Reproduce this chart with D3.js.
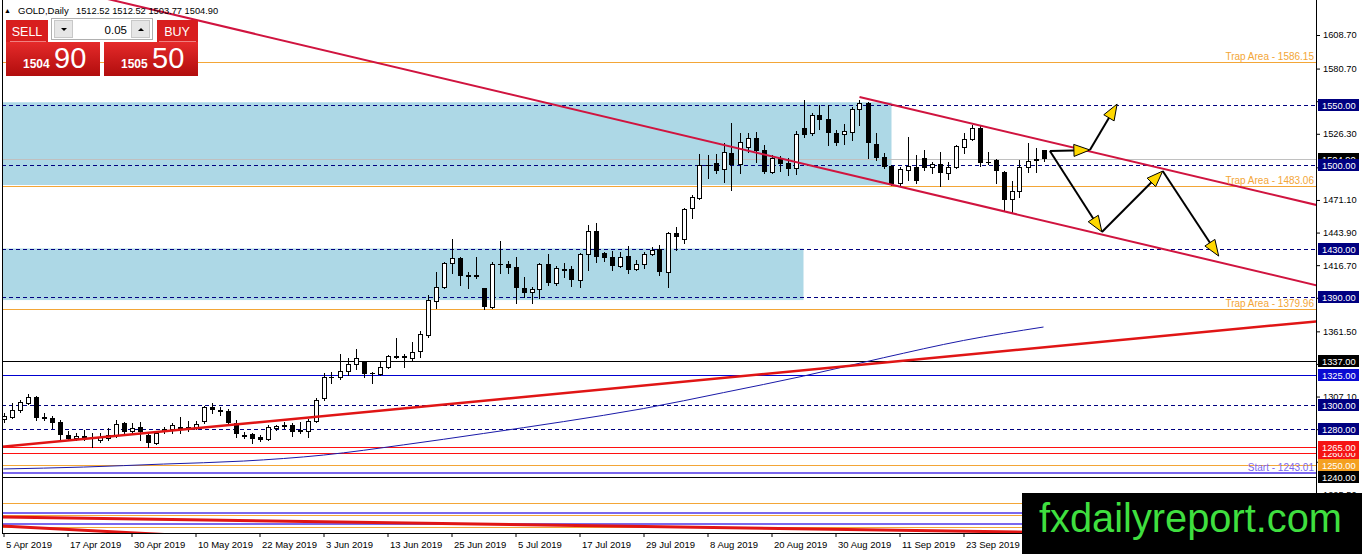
<!DOCTYPE html>
<html>
<head>
<meta charset="utf-8">
<script src="https://cdnjs.cloudflare.com/ajax/libs/d3/7.8.5/d3.min.js"></script>
<style>
  body { margin: 0; background: #fff; }
  svg { display: block; font-family: "Liberation Sans", Arial, sans-serif; }
</style>
</head>
<body>
<div id="chart"></div>
<script>
// ---------- data ----------
let symbol = "GOLD,Daily";
let askPrice = 1505.50;
let lotSize = 0.05;

// daily bars, 5 Apr 2019 .. 4 Oct 2019
let opens = [1288.4,1290.0,1295.9,1301.7,1306.7,1290.0,1289.2,1285.9,1275.0,1272.5,
  1274.2,1273.4,1270.8,1272.5,1275.0,1285.0,1278.4,1281.7,1275.0,1268.3,
  1278.4,1280.0,1281.7,1280.0,1281.7,1286.7,1298.4,1295.9,1295.0,1285.0,
  1275.0,1275.9,1273.4,1271.7,1280.9,1283.2,1283.4,1279.2,1278.4,1286.7,
  1305.9,1323.4,1323.4,1328.4,1334.2,1335.9,1326.7,1325.9,1331.7,1340.9,
  1340.9,1339.3,1345.1,1358.4,1386.8,1398.5,1418.5,1422.7,1408.5,1408.2,
  1397.6,1381.8,1418.0,1417.7,1415.2,1397.6,1394.3,1396.8,1417.7,1401.8,
  1413.5,1413.5,1404.3,1426.0,1445.2,1426.8,1423.5,1416.0,1424.3,1413.5,
  1417.7,1426.0,1430.2,1411.0,1443.5,1438.5,1464.4,1472.7,1500.3,1501.9,
  1496.9,1510.3,1501.1,1515.3,1522.8,1512.8,1494.4,1506.1,1501.9,1497.8,
  1531.1,1527.0,1542.0,1538.6,1527.0,1526.1,1527.8,1547.0,1552.0,1517.8,
  1506.9,1499.4,1485.2,1496.1,1498.6,1506.1,1498.6,1501.1,1493.6,1498.6,
  1515.3,1521.9,1531.1,1502.5,1504.4,1494.4,1471.9,1478.6,1498.6,1504.4,
  1512.52];
let highs = [1293.4,1301.7,1304.2,1309.2,1307.6,1293.4,1290.9,1287.5,1278.4,1276.7,
  1279.2,1276.7,1276.7,1280.9,1287.5,1285.9,1285.0,1285.9,1276.7,1277.5,
  1281.7,1285.0,1290.0,1286.7,1286.7,1299.2,1301.7,1298.4,1296.7,1287.5,
  1277.5,1276.7,1275.0,1283.4,1283.4,1285.9,1285.0,1285.9,1288.4,1305.9,
  1326.7,1327.6,1342.6,1339.3,1346.8,1336.5,1327.6,1335.9,1341.8,1355.9,
  1342.6,1352.6,1361.8,1391.8,1411.0,1419.3,1438.5,1423.5,1411.0,1423.5,
  1398.0,1419.3,1436.9,1420.2,1423.5,1406.8,1398.5,1418.5,1426.0,1416.0,
  1418.5,1416.0,1426.8,1450.2,1451.9,1427.7,1428.5,1427.7,1432.7,1421.0,
  1427.7,1431.9,1433.5,1444.4,1448.5,1464.4,1475.2,1509.4,1508.6,1509.4,
  1518.6,1535.3,1526.9,1526.9,1527.8,1516.9,1508.6,1507.8,1506.1,1528.6,
  1554.5,1543.6,1550.3,1550.3,1529.5,1534.5,1548.6,1554.5,1552.8,1526.9,
  1510.3,1500.3,1498.6,1523.6,1508.6,1512.8,1502.8,1511.1,1502.8,1516.9,
  1526.9,1533.6,1533.6,1511.1,1505.3,1495.2,1486.9,1504.4,1518.6,1514.4,
  1512.52];
let lows = [1285.9,1289.2,1294.2,1300.9,1287.5,1287.5,1280.9,1270.8,1270.8,1270.8,
  1270.8,1265.0,1269.2,1270.8,1273.4,1276.7,1276.7,1270.8,1265.0,1267.5,
  1276.7,1276.7,1276.7,1278.4,1280.0,1285.0,1293.4,1291.7,1284.2,1273.4,
  1272.5,1268.3,1270.0,1270.8,1279.2,1280.9,1274.2,1276.7,1273.4,1285.9,
  1304.2,1318.4,1322.0,1325.1,1330.1,1323.4,1318.4,1325.1,1330.9,1339.3,
  1331.7,1337.6,1340.1,1356.8,1381.0,1397.5,1410.2,1400.2,1397.6,1406.0,
  1380.1,1381.0,1410.2,1410.2,1385.1,1390.1,1385.1,1389.3,1400.2,1400.2,
  1406.8,1399.3,1398.5,1412.7,1419.3,1420.2,1412.7,1415.2,1410.2,1412.7,
  1414.3,1425.2,1408.5,1398.5,1429.3,1435.2,1456.0,1471.9,1489.4,1493.6,
  1486.1,1479.4,1493.6,1511.1,1502.8,1493.6,1493.6,1495.2,1491.9,1492.7,
  1523.6,1525.3,1530.3,1516.9,1516.9,1517.8,1521.1,1533.6,1506.1,1504.4,
  1497.8,1483.6,1483.6,1487.7,1485.2,1496.1,1493.6,1482.7,1488.6,1497.8,
  1510.3,1521.1,1499.4,1501.1,1485.2,1462.7,1460.2,1473.6,1494.4,1494.4,
  1503.77];
let closes = [1290.9,1295.9,1302.5,1306.7,1289.2,1288.4,1285.0,1275.0,1271.7,1274.2,
  1272.5,1271.7,1273.4,1275.0,1284.2,1277.5,1280.9,1277.5,1268.3,1276.7,
  1280.0,1283.4,1279.2,1281.7,1284.2,1298.4,1295.9,1294.2,1285.0,1275.9,
  1275.3,1271.7,1270.8,1281.7,1282.5,1283.6,1277.5,1277.5,1286.7,1304.2,
  1323.4,1322.6,1328.4,1334.2,1339.3,1325.9,1326.5,1331.7,1340.9,1341.2,
  1339.3,1344.3,1359.3,1387.6,1398.5,1418.5,1422.7,1407.7,1406.8,1408.6,
  1381.8,1417.7,1417.3,1414.3,1397.6,1393.5,1396.8,1417.7,1401.8,1414.3,
  1413.7,1404.3,1426.0,1445.2,1423.5,1422.7,1416.0,1423.5,1412.7,1417.7,
  1426.0,1429.3,1411.0,1443.5,1440.2,1463.5,1473.6,1500.3,1499.4,1495.2,
  1511.1,1500.3,1519.4,1522.8,1511.9,1494.4,1506.1,1501.1,1496.9,1526.1,
  1525.3,1542.0,1537.8,1527.0,1518.6,1528.6,1547.0,1552.0,1518.6,1506.1,
  1498.6,1484.4,1496.9,1499.4,1486.9,1497.8,1501.1,1493.6,1498.6,1516.1,
  1521.9,1531.1,1501.9,1502.0,1495.2,1471.1,1478.6,1498.6,1503.6,1504.9,
  1504.90];

// time axis (bar index of each label)
let xTickIdx = [0, 8, 16, 24, 32, 40, 48, 56, 64, 72, 80, 88, 96, 104, 112, 120];
let xTickLabels = ["5 Apr 2019", "17 Apr 2019", "30 Apr 2019", "10 May 2019", "22 May 2019",
  "3 Jun 2019", "13 Jun 2019", "25 Jun 2019", "5 Jul 2019", "17 Jul 2019", "29 Jul 2019",
  "8 Aug 2019", "20 Aug 2019", "30 Aug 2019", "11 Sep 2019", "23 Sep 2019"];

// price scale labels
let yTicks = [1608.70, 1580.70, 1553.50, 1526.30, 1498.30, 1471.10, 1443.90, 1416.70,
  1389.50, 1361.50, 1334.30, 1307.10, 1279.90, 1252.70, 1225.50];

// moving average (sampled every 10 bars)
let maIdx = [0, 10, 20, 30, 40, 50, 60, 70, 80, 90, 100, 110, 120, 130];
let maVals = [1246.7, 1248.3, 1250.8, 1253.3, 1258.3, 1266.8, 1276.3, 1286.2, 1297.1,
  1310.4, 1324.2, 1339.5, 1353.9, 1365.1];

// horizontal levels
let levelPrices = [1586.15, 1550.00, 1504.90, 1500.00, 1483.06, 1430.00, 1390.00, 1379.96,
  1337.00, 1325.00, 1300.00, 1280.00, 1260.00, 1265.00, 1250.00, 1243.01, 1240.00,
  1218.30, 1210.00, 1208.30, 1200.80, 1198.30];
let levelKinds = ["trap", "level", "bid", "level", "trap", "level", "level", "trap",
  "black", "blue", "level", "level", "red", "red", "orange", "start", "black",
  "orangeLine", "purpleLine", "orangeLine", "purpleLine", "orangeLine"];
let levelNames = ["Trap Area  - 1586.15", "", "", "", "Trap Area - 1483.06", "", "", "Trap Area - 1379.96",
  "", "", "", "", "", "", "", "Start - 1243.01", "", "", "", "", "", ""];

// shaded zones [from bar, to bar, top price, bottom price]
let zoneFrom = [-5, -5];
let zoneTo = [111, 100];
let zoneTop = [1552.6, 1430.6];
let zoneBottom = [1483.6, 1387.6];

// trend lines (bar index, price) anchors
let trendFrom = [[10, 1643.5], [107, 1557.0], [-1, 1264.7], [-1, 1206.7], [-1, 1199.45]];
let trendTo = [[165, 1398.5], [165, 1465.5], [165, 1370.4], [127, 1194.1], [16.5, 1193.3]];
let trendKinds = ["channel", "channel", "support", "low", "low"];

// forecast arrows
let arrowFrom = [[130.8, 1511.9], [135.8, 1512.8], [130.8, 1511.9], [137.3, 1444.4], [144.9, 1495.2]];
let arrowTo = [[135.8, 1512.8], [139.2, 1551.1], [137.3, 1444.4], [144.9, 1495.2], [151.9, 1424.3]];

// ---------- setup ----------
let width = 1362, height = 554;
let plot = {left: 2, right: 1316, top: 0, bottom: 533};

let svg = d3.select("#chart")
  .append("svg")
    .attr("width", width)
    .attr("height", height);

let defs = svg.append("defs");
defs.append("clipPath").attr("id", "plotClip")
  .append("rect")
    .attr("x", plot.left).attr("y", plot.top)
    .attr("width", plot.right - plot.left).attr("height", plot.bottom - plot.top);

let redGrad = defs.append("linearGradient").attr("id", "redGrad")
  .attr("x1", 0).attr("y1", 0).attr("x2", 0).attr("y2", 1);
redGrad.append("stop").attr("offset", "0%").attr("stop-color", "#e52a2a");
redGrad.append("stop").attr("offset", "100%").attr("stop-color", "#b10d0d");

// scales
let x = d3.scaleLinear().domain([0, 130]).range([3.5, 1043.5]);
let y = d3.scaleLinear().domain([1608.7, 1240]).range([35, 477]);

let chart = svg.append("g").attr("clip-path", "url(#plotClip)");

// zones
chart.append("g")
  .selectAll("rect")
  .data(zoneFrom.map(function(d, i) { return {from: d, to: zoneTo[i], top: zoneTop[i], bottom: zoneBottom[i]}; }))
  .enter()
  .append("rect")
    .attr("x", function(d) { return x(d.from); })
    .attr("y", function(d) { return y(d.top); })
    .attr("width", function(d) { return x(d.to) - x(d.from); })
    .attr("height", function(d) { return y(d.bottom) - y(d.top); })
    .attr("fill", "#add8e6");

// level styles
let levelStyle = {
  trap:       {stroke: "#f3a637", w: 1, dash: null, box: null, text: "#f3a637"},
  level:      {stroke: "#000080", w: 1, dash: "4,3", box: "#000080"},
  bid:        {stroke: "#c0c0c0", w: 1, dash: null, box: "#000000"},
  black:      {stroke: "#000000", w: 1, dash: null, box: "#000000"},
  blue:       {stroke: "#0000d0", w: 1, dash: null, box: "#0a0ad2"},
  red:        {stroke: "#ff1010", w: 1, dash: null, box: "#f51414"},
  orange:     {stroke: "#f3a637", w: 1, dash: null, box: "#f4a020"},
  start:      {stroke: "#7b68ee", w: 2, dash: null, box: null, text: "#7b68ee"},
  orangeLine: {stroke: "#f3a637", w: 1, dash: null, box: null},
  purpleLine: {stroke: "#7b68ee", w: 2, dash: null, box: null}
};

let levels = levelPrices.map(function(p, i) {
  return {p: p, kind: levelKinds[i], name: levelNames[i], s: levelStyle[levelKinds[i]]};
});

chart.append("g")
  .selectAll("line")
  .data(levels)
  .enter()
  .append("line")
    .attr("x1", plot.left).attr("x2", plot.right)
    .attr("y1", function(d) { return Math.round(y(d.p)) + (d.s.w === 2 ? 0 : 0.5); })
    .attr("y2", function(d) { return Math.round(y(d.p)) + (d.s.w === 2 ? 0 : 0.5); })
    .attr("stroke", function(d) { return d.s.stroke; })
    .attr("stroke-width", function(d) { return d.s.w; })
    .attr("stroke-dasharray", function(d) { return d.s.dash; })
    .attr("shape-rendering", "crispEdges");

// moving average
let ma = maIdx.map(function(d, i) { return [d, maVals[i]]; });
chart.append("path")
  .datum(ma)
  .attr("fill", "none")
  .attr("stroke", "#1a1aa8")
  .attr("stroke-width", 1)
  .attr("d", d3.line()
    .x(function(d) { return x(d[0]); })
    .y(function(d) { return y(d[1]); })
    .curve(d3.curveMonotoneX));

// candles
let bars = opens.map(function(o, i) {
  return {i: i, o: o, h: highs[i], l: lows[i], c: closes[i]};
});
let candles = chart.append("g").attr("shape-rendering", "crispEdges");

candles.selectAll("line")
  .data(bars)
  .enter()
  .append("line")
    .attr("x1", function(d) { return Math.round(x(d.i)) + 0.5; })
    .attr("x2", function(d) { return Math.round(x(d.i)) + 0.5; })
    .attr("y1", function(d) { return Math.round(y(d.h)); })
    .attr("y2", function(d) { return Math.round(y(d.l)) + 1; })
    .attr("stroke", "#000");

candles.selectAll("rect")
  .data(bars)
  .enter()
  .append("rect")
    .attr("x", function(d) { return Math.round(x(d.i)) - 2 + (d.c >= d.o ? 0.5 : 0); })
    .attr("y", function(d) { return Math.round(y(Math.max(d.o, d.c))) + (d.c >= d.o ? 0.5 : 0); })
    .attr("width", function(d) { return d.c >= d.o ? 4 : 5; })
    .attr("height", function(d) {
      let h = Math.round(y(Math.min(d.o, d.c))) - Math.round(y(Math.max(d.o, d.c)));
      return Math.max(h, 1);
    })
    .attr("fill", function(d) { return d.c >= d.o ? "#fff" : "#000"; })
    .attr("stroke", function(d) { return d.c >= d.o ? "#000" : "none"; });

// trend lines
let trendStyle = {
  channel: {stroke: "#d0143f", w: 2},
  support: {stroke: "#e01515", w: 2.5},
  low:     {stroke: "#e01515", w: 3}
};
function extend(a, b, iEnd) {
  let slope = (b[1] - a[1]) / (b[0] - a[0]);
  return [iEnd, b[1] + slope * (iEnd - b[0])];
}
chart.append("g")
  .selectAll("line")
  .data(trendFrom.map(function(d, i) { return {a: d, b: extend(d, trendTo[i], 170), s: trendStyle[trendKinds[i]]}; }))
  .enter()
  .append("line")
    .attr("x1", function(d) { return x(d.a[0]); })
    .attr("y1", function(d) { return y(d.a[1]); })
    .attr("x2", function(d) { return x(d.b[0]); })
    .attr("y2", function(d) { return y(d.b[1]); })
    .attr("stroke", function(d) { return d.s.stroke; })
    .attr("stroke-width", function(d) { return d.s.w; });

// arrows
let arrows = chart.append("g");
arrowFrom.forEach(function(a, i) {
  let b = arrowTo[i];
  let x1 = x(a[0]), y1 = y(a[1]), x2 = x(b[0]), y2 = y(b[1]);
  let len = Math.hypot(x2 - x1, y2 - y1);
  let ux = (x2 - x1) / len, uy = (y2 - y1) / len;
  arrows.append("line")
    .attr("x1", x1).attr("y1", y1).attr("x2", x2 - ux * 6).attr("y2", y2 - uy * 6)
    .attr("stroke", "#000").attr("stroke-width", 2);
  let bx = x2 - ux * 16, by = y2 - uy * 16;
  let pts = [[x2, y2], [bx - uy * 6, by + ux * 6], [bx + uy * 6, by - ux * 6]];
  arrows.append("polygon")
    .attr("points", pts.map(function(p) { return p.join(","); }).join(" "))
    .attr("fill", "#ffd800")
    .attr("stroke", "#000")
    .attr("stroke-width", 1);
});

// level captions (trap / start)
chart.append("g")
  .selectAll("text")
  .data(levels.filter(function(d) { return d.name !== ""; }))
  .enter()
  .append("text")
    .attr("x", plot.right - 2)
    .attr("y", function(d) { return Math.round(y(d.p)) - 2; })
    .attr("text-anchor", "end")
    .attr("font-size", "10px")
    .attr("fill", function(d) { return d.s.text; })
    .text(function(d) { return d.name; });

// ---------- axes ----------
let fmt = d3.format(".2f");

let yAxis = svg.append("g")
  .attr("transform", "translate(" + plot.right + ",0)")
  .call(d3.axisRight(y).tickValues(yTicks).tickFormat(fmt).tickSize(4).tickPadding(3));
yAxis.select(".domain").remove();
yAxis.selectAll("text").attr("font-size", "9.3px").attr("font-family", "Liberation Sans, Arial, sans-serif").attr("fill", "#000");

let xAxis = svg.append("g")
  .attr("transform", "translate(0," + plot.bottom + ")")
  .call(d3.axisBottom(x).tickValues(xTickIdx)
    .tickFormat(function(d, i) { return xTickLabels[i]; })
    .tickSize(4).tickPadding(2));
xAxis.select(".domain").remove();
xAxis.selectAll("text")
  .attr("text-anchor", "start")
  .attr("dx", "2px")
  .attr("dy", "0.9em")
  .attr("font-size", "9.5px")
  .attr("font-family", "Liberation Sans, Arial, sans-serif")
  .attr("fill", "#000");

// frame
svg.append("path")
  .attr("d", "M" + (plot.left + 0.5) + ",0 V" + (plot.bottom + 0.5) + " H" + (plot.right + 0.5) + " V0")
  .attr("fill", "none")
  .attr("stroke", "#000")
  .attr("stroke-width", 1)
  .attr("shape-rendering", "crispEdges");

// price boxes on the scale
let boxes = svg.append("g");
levels.filter(function(d) { return d.s.box; }).forEach(function(d) {
  let cy = y(d.p);
  boxes.append("rect")
    .attr("x", plot.right + 2).attr("y", Math.round(cy) - 6)
    .attr("width", 41).attr("height", 12)
    .attr("fill", d.s.box);
  boxes.append("text")
    .attr("x", plot.right + 6).attr("y", Math.round(cy) + 4)
    .attr("font-size", "9.3px")
    .attr("fill", "#fff")
    .text(fmt(d.p));
});

// ---------- header and trade panel ----------
let last = bars[bars.length - 1];
svg.append("text").attr("x", 4).attr("y", 13).attr("font-size", "7px").text("\u25B2");
svg.append("text").attr("x", 18).attr("y", 14).attr("font-size", "9.5px").text(symbol);
svg.append("text").attr("x", 76).attr("y", 14).attr("font-size", "9.3px")
  .text([last.o, last.h, last.l, last.c].map(fmt).join(" "));

let panel = svg.append("g");
// sell / buy blocks
panel.append("rect").attr("x", 6).attr("y", 20).attr("width", 42).attr("height", 22).attr("fill", "#d81e1e");
panel.append("rect").attr("x", 157).attr("y", 20).attr("width", 41).attr("height", 22).attr("fill", "#d81e1e");
panel.append("rect").attr("x", 6).attr("y", 42).attr("width", 94).attr("height", 34).attr("fill", "url(#redGrad)");
panel.append("rect").attr("x", 104).attr("y", 42).attr("width", 94).attr("height", 34).attr("fill", "url(#redGrad)");
panel.append("line").attr("x1", 10).attr("x2", 46).attr("y1", 41.5).attr("y2", 41.5).attr("stroke", "#f08080");
panel.append("line").attr("x1", 159).attr("x2", 196).attr("y1", 41.5).attr("y2", 41.5).attr("stroke", "#f08080");
panel.append("text").attr("x", 27).attr("y", 36).attr("text-anchor", "middle")
  .attr("font-size", "12.5px").attr("fill", "#fff").text("SELL");
panel.append("text").attr("x", 177).attr("y", 36).attr("text-anchor", "middle")
  .attr("font-size", "12.5px").attr("fill", "#fff").text("BUY");

// lot spinner
panel.append("rect").attr("x", 51.5).attr("y", 18.5).attr("width", 101).attr("height", 21)
  .attr("fill", "#fff").attr("stroke", "#b0b0b0");
panel.append("rect").attr("x", 54.5).attr("y", 20.5).attr("width", 18).attr("height", 17)
  .attr("fill", "#e6e6e6").attr("stroke", "#c8c8c8");
panel.append("rect").attr("x", 131.5).attr("y", 20.5).attr("width", 18).attr("height", 17)
  .attr("fill", "#e6e6e6").attr("stroke", "#c8c8c8");
panel.append("polygon").attr("points", "61,28 67,28 64,31").attr("fill", "#000");
panel.append("polygon").attr("points", "138,31 144,31 141,28").attr("fill", "#000");
panel.append("text").attr("x", 127).attr("y", 34).attr("text-anchor", "end")
  .attr("font-size", "11.5px").attr("fill", "#000").text(fmt(lotSize));

// bid / ask quotes
function quote(px, x0) {
  let s = fmt(px);
  panel.append("text").attr("x", x0 + 17).attr("y", 68)
    .attr("font-size", "12px").attr("font-weight", "bold").attr("fill", "#fff")
    .text(s.slice(0, s.indexOf(".")));
  panel.append("text").attr("x", x0 + 48).attr("y", 68)
    .attr("font-size", "29px").attr("fill", "#fff")
    .text(s.slice(s.indexOf(".") + 1));
}
quote(last.c, 6);
quote(askPrice, 104);

// ---------- watermark ----------
svg.append("rect").attr("x", 1022).attr("y", 493).attr("width", 340).attr("height", 61).attr("fill", "#000");
svg.append("text").attr("x", 1039).attr("y", 532)
  .attr("font-size", "39.8px").attr("fill", "#3fdf3f")
  .text("fxdailyreport.com");
</script>
</body>
</html>
